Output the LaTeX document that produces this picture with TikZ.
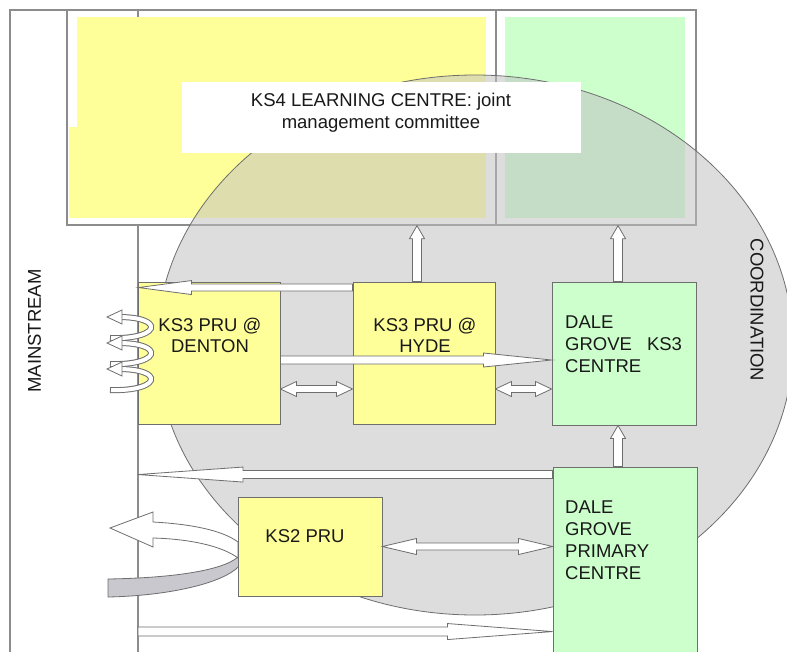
\documentclass[tikz,border=0pt]{standalone}
\usepackage{fontspec}
\setmainfont{Liberation Sans}
\usetikzlibrary{calc}
\definecolor{ylw}{RGB}{255,255,153}
\definecolor{grn}{RGB}{204,255,204}
\definecolor{linegray}{RGB}{140,140,140}
\definecolor{boxgray}{RGB}{110,110,110}
\definecolor{ellgray}{RGB}{192,192,194}
\definecolor{txt}{RGB}{25,25,25}
\definecolor{bandgray}{RGB}{200,200,206}

% single block arrow: from, to, shaft half width, head half width, head length
\newcommand\sarrow[5]{%
 \path ($(#2)!#5!(#1)$) coordinate (bhA);
 \draw[barrow] ($(#1)!#3!90:(#2)$) -- ($(bhA)!#3!90:(#2)$) -- ($(bhA)!#4!90:(#2)$) -- (#2)
   -- ($(bhA)!#4!-90:(#2)$) -- ($(bhA)!#3!-90:(#2)$) -- ($(#1)!#3!-90:(#2)$) -- cycle;}
% double block arrow
\newcommand\darrow[5]{%
 \path ($(#2)!#5!(#1)$) coordinate (bhA) ($(#1)!#5!(#2)$) coordinate (bhB);
 \draw[barrow] (#1) -- ($(bhB)!#4!90:(#2)$) -- ($(bhB)!#3!90:(#2)$) -- ($(bhA)!#3!90:(#2)$)
   -- ($(bhA)!#4!90:(#2)$) -- (#2) -- ($(bhA)!#4!-90:(#2)$) -- ($(bhA)!#3!-90:(#2)$)
   -- ($(bhB)!#3!-90:(#2)$) -- ($(bhB)!#4!-90:(#2)$) -- cycle;}

\begin{document}
\begin{tikzpicture}[x=1pt,y=-1pt,
  frame/.style={draw=linegray, line width=1.3pt},
  box/.style={draw=boxgray, line width=0.9pt, inner sep=0pt},
  ybox/.style={box, fill=ylw},
  gbox/.style={box, fill=grn},
  barrow/.style={draw=boxgray, fill=white, line width=0.8pt, line join=miter},
  lbl/.style={font=\fontsize{18.5}{21.5}\selectfont, text=txt, inner sep=0pt},
]
\useasboundingbox (0,0) rectangle (787,651);
\fill[white] (0,0) rectangle (787,651);

% fills of the KS4 block
\fill[ylw] (77,17) rectangle (486,218);
\fill[ylw] (69,127) rectangle (77,218);
\fill[grn] (505,17) rectangle (685,218);

% frame lines
\coordinate (otl) at (10,10);
\coordinate (obl) at (10,660);
\coordinate (mst) at (138,10);
\coordinate (mstb) at (138,17);
\coordinate (msm) at (138,225);
\coordinate (msb) at (138,660);
\draw[frame] (obl) -- (otl) -- (696,10);
\draw[frame] (mst) -- (mstb);
\draw[frame] (msm) -- (msb);
\node[frame, minimum width=629, minimum height=215, inner sep=0pt] (ks4) at (381.5,117.5) {};
\draw[frame] (496,10) -- (496,225);

% coordination ellipse
\fill[ellgray, fill opacity=0.53] (475,345) ellipse [x radius=318, y radius=270];
\draw[boxgray, line width=0.8pt] (475,345) ellipse [x radius=318, y radius=270];

% KS4 label
\node[fill=white, minimum width=399, minimum height=71, inner sep=0pt] (lab) at (381.5,117.5) {};
\node[lbl, anchor=base] (t1) at (381,106) {KS4 LEARNING CENTRE: joint};
\node[lbl, anchor=base] (t2) at (381,128) {management committee};

% boxes
\node[ybox, minimum width=142, minimum height=142] (den) at (209,353) {};
\node[ybox, minimum width=142, minimum height=142] (hyde) at (424,353) {};
\node[gbox, minimum width=144, minimum height=143] (dks3) at (624,353.5) {};
\node[gbox, minimum width=144, minimum height=200] (dpri) at (625,567) {};

% curved arrow at KS2
\draw[fill=bandgray, draw=boxgray, line width=0.8pt] (108,579) .. controls (170,578) and (222,571) .. (238,557)
  .. controls (241,561) and (240,566) .. (236,569) .. controls (215,586) and (160,596) .. (108,597) -- cycle;
\draw[barrow] (110,528) -- (153,512) -- (153,522) .. controls (190,524) and (222,530) .. (238,542)
  -- (238,558) .. controls (222,546) and (190,539) .. (153,538) -- (153,547) -- cycle;
\node[ybox, minimum width=144, minimum height=99] (ks2) at (310,546.5) {};

% box texts
\node[lbl, anchor=base] (t3) at (210,331) {KS3 PRU @};
\node[lbl, anchor=base] (t4) at (210,352) {DENTON};
\node[lbl, anchor=base] (t5) at (425,331) {KS3 PRU @};
\node[lbl, anchor=base] (t6) at (425,352) {HYDE};
\node[lbl, anchor=base west] (t7) at (565,328) {DALE};
\node[lbl, anchor=base west] (t8) at (565,350) {GROVE\hspace{15pt}KS3};
\node[lbl, anchor=base west] (t9) at (565,372) {CENTRE};
\node[lbl, anchor=base west] (t10) at (565,513) {DALE};
\node[lbl, anchor=base west] (t11) at (565,535) {GROVE};
\node[lbl, anchor=base west] (t12) at (565,557) {PRIMARY};
\node[lbl, anchor=base west] (t13) at (565,579) {CENTRE};
\node[lbl, anchor=base] (t14) at (305,542) {KS2 PRU};
\node[lbl, rotate=90] (ms) at (34.5,331) {MAINSTREAM};
\node[lbl, rotate=-90] (co) at (757,310) {COORDINATION};

% block arrows
\coordinate (a1s) at ($(hyde.north west)+(0,6)$);
\coordinate (a1e) at ($(den.north west)+(1,6)$);
\sarrow{a1s}{a1e}{3.5pt}{7pt}{53pt}
\coordinate (a2s) at ($(den.east)+(0,7)$);
\coordinate (a2e) at (dks3.west |- a2s);
\sarrow{a2s}{a2e}{4pt}{7pt}{68pt}
\coordinate (a3s) at ($(den.east)+(0,36)$);
\coordinate (a3e) at (hyde.west |- a3s);
\darrow{a3s}{a3e}{3.5pt}{7.5pt}{16pt}
\coordinate (a4s) at (hyde.east |- a3s);
\coordinate (a4e) at (dks3.west |- a3s);
\darrow{a4s}{a4e}{3.5pt}{7.5pt}{16pt}
\coordinate (a5s) at ($(hyde.north)+(-7,0)$);
\coordinate (a5e) at (a5s |- ks4.south);
\sarrow{a5s}{a5e}{4.5pt}{7.5pt}{13pt}
\coordinate (a6s) at ($(dks3.north)+(-6,0)$);
\coordinate (a6e) at (a6s |- ks4.south);
\sarrow{a6s}{a6e}{4.5pt}{7.5pt}{13pt}
\coordinate (a7s) at ($(dpri.north)+(-7,0)$);
\coordinate (a7e) at (a7s |- dks3.south);
\sarrow{a7s}{a7e}{4.5pt}{7.5pt}{13pt}
\coordinate (a8s) at ($(dpri.north west)+(0,8)$);
\coordinate (a8e) at (msm |- a8s);
\sarrow{a8s}{a8e}{4pt}{7.5pt}{105pt}
\coordinate (a9e) at ($(dpri.north west)+(0,165)$);
\coordinate (a9s) at (msm |- a9e);
\sarrow{a9s}{a9e}{4.5pt}{8pt}{105pt}
\coordinate (a10s) at (ks2.east);
\coordinate (a10e) at (dpri.west |- a10s);
\darrow{a10s}{a10e}{3.5pt}{8pt}{34pt}

% spring arrows at Denton
\foreach \y in {317,343,369} {
  \draw[boxgray, line width=6pt] (110,\y+21) .. controls (135,\y+22) and (153,\y+16) .. (151,\y+9)
     .. controls (149,\y+3) and (135,\y) .. (119,\y);
  \draw[white, line width=4pt] (111,\y+21) .. controls (135,\y+22) and (153,\y+16) .. (151,\y+9)
     .. controls (149,\y+3) and (135,\y) .. (119,\y);
  \draw[barrow] (107,\y) -- (122,\y-7) -- (122,\y+7) -- cycle;
}
\end{tikzpicture}
\end{document}
